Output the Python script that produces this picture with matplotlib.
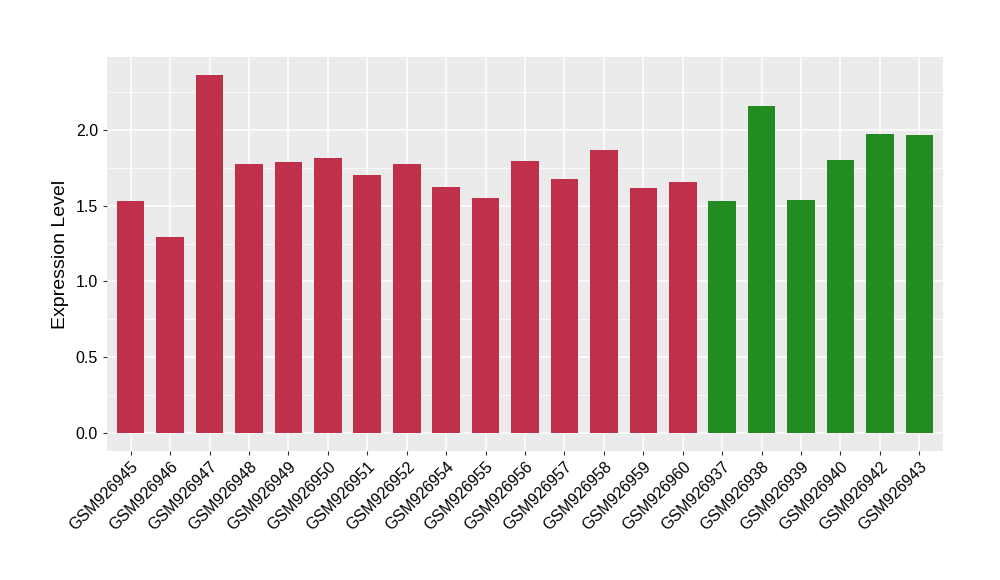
import matplotlib
matplotlib.use('Agg')
import matplotlib.pyplot as plt
import numpy as np

plt.rcParams['font.family'] = ['Liberation Sans', 'DejaVu Sans']

samples = ['GSM926945', 'GSM926946', 'GSM926947', 'GSM926948', 'GSM926949',
           'GSM926950', 'GSM926951', 'GSM926952', 'GSM926954', 'GSM926955',
           'GSM926956', 'GSM926957', 'GSM926958', 'GSM926959', 'GSM926960',
           'GSM926937', 'GSM926938', 'GSM926939', 'GSM926940', 'GSM926942',
           'GSM926943']
values = [1.528, 1.296, 2.362, 1.776, 1.789, 1.812, 1.701, 1.776, 1.622, 1.551,
          1.795, 1.677, 1.866, 1.615, 1.655, 1.533, 2.158, 1.539, 1.803, 1.974,
          1.967]
groups = ['a'] * 15 + ['b'] * 6
group_colors = {'a': '#C1304A', 'b': '#228B22'}

fig = plt.figure(figsize=(10, 5.8), dpi=100)
ax = fig.add_axes([0.107, 0.2224, 0.836, 0.6793])
ax.set_facecolor('#EBEBEB')

x = np.arange(len(samples))
ax.bar(x, values, width=0.7, color=[group_colors[g] for g in groups], zorder=3)

ymax = max(values)
pad = ymax * 0.05
ax.set_ylim(-pad, ymax + pad)
ax.set_xlim(-0.6, len(samples) - 0.4)

ax.set_yticks([0.0, 0.5, 1.0, 1.5, 2.0])
ax.set_yticklabels(['0.0', '0.5', '1.0', '1.5', '2.0'])
ax.set_yticks([0.25, 0.75, 1.25, 1.75, 2.25], minor=True)
ax.set_xticks(x)
ax.set_xticklabels(samples, rotation=45, ha='right', rotation_mode='anchor')

ax.grid(which='major', color='white', linewidth=1.1, zorder=0)
ax.grid(which='minor', axis='y', color='white', linewidth=0.55, zorder=0)
ax.set_axisbelow(True)

for s in ax.spines.values():
    s.set_visible(False)
ax.tick_params(which='major', length=3, color='#333333', labelsize=11.5, labelcolor='black')
ax.tick_params(which='minor', length=0)
ax.tick_params(axis='x', pad=3)

ax.set_ylabel('Expression Level', fontsize=14, labelpad=5)

fig.savefig('out.png', dpi=100)
